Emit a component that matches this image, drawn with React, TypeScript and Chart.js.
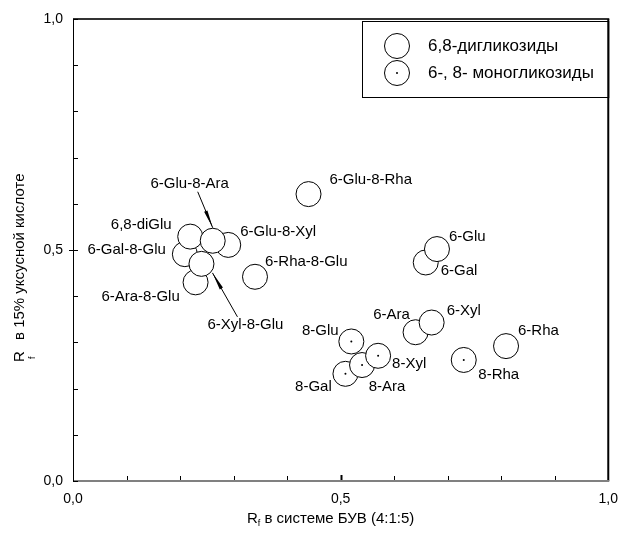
import React, { useEffect, useRef } from "react";
import { Chart, registerables } from "chart.js";
Chart.register(...registerables);

// 6,8-diglycosides
const diNames = ["6-Ara-8-Glu", "6-Gal-8-Glu", "6-Glu-8-Xyl", "6,8-diGlu", "6-Glu-8-Ara", "6-Xyl-8-Glu", "6-Rha-8-Glu", "6-Glu-8-Rha"];
const diX = [0.229, 0.209, 0.29, 0.219, 0.261, 0.24, 0.34, 0.44];
const diY = [0.43, 0.491, 0.511, 0.529, 0.52, 0.47, 0.442, 0.621];

// 6-monoglycosides (drawn as plain circles in the original)
const mono6Names = ["6-Gal", "6-Glu", "6-Ara", "6-Xyl", "6-Rha"];
const mono6X = [0.659, 0.68, 0.64, 0.67, 0.809];
const mono6Y = [0.473, 0.502, 0.322, 0.343, 0.292];

// 8-monoglycosides (circles with a dot)
const mono8Names = ["8-Gal", "8-Ara", "8-Xyl", "8-Glu", "8-Rha"];
const mono8X = [0.509, 0.54, 0.57, 0.52, 0.73];
const mono8Y = [0.232, 0.251, 0.271, 0.302, 0.262];

const tickValues = [0, 0.5, 1];
const minorTickValues = [0, 0.1, 0.2, 0.3, 0.4, 0.5, 0.6, 0.7, 0.8, 0.9, 1];
const legendLabels = ["6,8-дигликозиды", "6-, 8- моногликозиды"];
const xTitleMain = "R";
const xTitleSub = "f";
const xTitleRest = " в системе БУВ (4:1:5)";
const yTitleMain = "R";
const yTitleSub = "f";
const yTitleRest = "в 15% уксусной кислоте";

// label placement (pixel offsets from the point, alignment)
const labelLayout: Record<string, [number, number, CanvasTextAlign]> = {
  "6,8-diGlu": [-49, -12, "center"],
  "6-Gal-8-Glu": [-19, -4, "right"],
  "6-Ara-8-Glu": [-55, 15, "center"],
  "6-Glu-8-Ara": [-23, -57, "center"],
  "6-Glu-8-Xyl": [12, -13, "left"],
  "6-Rha-8-Glu": [10, -15, "left"],
  "6-Xyl-8-Glu": [6, 61, "left"],
  "6-Glu-8-Rha": [21, -14, "left"],
  "6-Glu": [12, -12, "left"],
  "6-Gal": [15, 8, "left"],
  "6-Xyl": [15, -12, "left"],
  "6-Ara": [-24, -17, "center"],
  "6-Rha": [12, -15, "left"],
  "8-Glu": [-31, -11, "center"],
  "8-Xyl": [14, 8, "left"],
  "8-Ara": [25, 22, "center"],
  "8-Gal": [-32, 13, "center"],
  "8-Rha": [35, 15, "center"],
};
// arrows: [name, tailDx, tailDy, tipDx, tipDy]
const arrowLayout: [string, number, number, number, number][] = [
  ["6-Glu-8-Ara", -15, -49, 0, -13],
  ["6-Xyl-8-Glu", 36, 53, 11, 9],
];

const FONT = '"Liberation Sans", Arial, sans-serif';
const fmt = (v: number) => Number(v).toFixed(1).replace(".", ",");

function drawArrow(ctx: CanvasRenderingContext2D, x1: number, y1: number, x2: number, y2: number) {
  ctx.save();
  ctx.strokeStyle = "#000";
  ctx.fillStyle = "#000";
  ctx.lineWidth = 1;
  ctx.beginPath();
  ctx.moveTo(x1, y1);
  ctx.lineTo(x2, y2);
  ctx.stroke();
  const a = Math.atan2(y2 - y1, x2 - x1);
  const L = 18, W = 1.8;
  const bx = x2 - L * Math.cos(a), by = y2 - L * Math.sin(a);
  ctx.beginPath();
  ctx.moveTo(x2, y2);
  ctx.lineTo(bx + W * Math.sin(a), by - W * Math.cos(a));
  ctx.lineTo(bx - W * Math.sin(a), by + W * Math.cos(a));
  ctx.closePath();
  ctx.fill();
  ctx.restore();
}

function drawMarker(ctx: CanvasRenderingContext2D, x: number, y: number, dot: boolean) {
  ctx.beginPath();
  ctx.arc(x, y, 12.5, 0, Math.PI * 2);
  ctx.fillStyle = "#fff";
  ctx.fill();
  ctx.lineWidth = 1;
  ctx.strokeStyle = "#000";
  ctx.stroke();
  if (dot) {
    ctx.fillStyle = "#000";
    ctx.beginPath();
    ctx.arc(x, y, 1, 0, Math.PI * 2);
    ctx.fill();
  }
}

const overlay = {
  id: "overlay",
  afterDatasetsDraw(chart: any) {
    const ctx: CanvasRenderingContext2D = chart.ctx;
    const xs = chart.scales.x, ys = chart.scales.y;
    const area = chart.chartArea;
    const pos: Record<string, [number, number]> = {};
    const add = (names: string[], X: number[], Y: number[]) =>
      names.forEach((n, i) => (pos[n] = [xs.getPixelForValue(X[i]), ys.getPixelForValue(Y[i])]));
    add(diNames, diX, diY);
    add(mono6Names, mono6X, mono6Y);
    add(mono8Names, mono8X, mono8Y);

    ctx.save();
    ctx.font = `15px ${FONT}`;
    ctx.fillStyle = "#000";
    ctx.textBaseline = "middle";
    Object.keys(labelLayout).forEach((n) => {
      const p = pos[n];
      if (!p) return;
      const [dx, dy, al] = labelLayout[n];
      ctx.textAlign = al;
      ctx.fillText(n, p[0] + dx, p[1] + dy);
    });
    arrowLayout.forEach(([n, tx, ty, hx, hy]) => {
      const p = pos[n];
      drawArrow(ctx, p[0] + tx, p[1] + ty, p[0] + hx, p[1] + hy);
    });

    // frame
    const { left, right, top, bottom } = area;
    ctx.lineCap = "butt";
    ctx.strokeStyle = "#333";
    ctx.lineWidth = 2;
    ctx.beginPath(); ctx.moveTo(left, top); ctx.lineTo(right + 1, top); ctx.stroke();
    ctx.strokeStyle = "#000";
    ctx.beginPath(); ctx.moveTo(right, top); ctx.lineTo(right, bottom); ctx.stroke();
    ctx.strokeStyle = "#808080";
    ctx.beginPath(); ctx.moveTo(left, bottom); ctx.lineTo(right + 1, bottom); ctx.stroke();
    ctx.strokeStyle = "#000";
    ctx.lineWidth = 1;
    ctx.beginPath(); ctx.moveTo(left + 0.5, top); ctx.lineTo(left + 0.5, bottom); ctx.stroke();

    // ticks
    minorTickValues.forEach((v) => {
      const major = Math.abs(v - 0.5) < 1e-9;
      const px = Math.round(xs.getPixelForValue(v)) + 0.5;
      ctx.lineWidth = major ? 2 : 1;
      ctx.beginPath(); ctx.moveTo(px, bottom - 1); ctx.lineTo(px, bottom - (major ? 6 : 5)); ctx.stroke();
      const py = Math.round(ys.getPixelForValue(v)) + 0.5;
      ctx.lineWidth = 1;
      ctx.beginPath();
      ctx.moveTo(major ? left - 4 : left, py);
      ctx.lineTo(left + 5, py);
      ctx.stroke();
    });

    // legend
    const lx = 362, ly = 21, lw = right - 362, lh = 76;
    ctx.lineWidth = 1;
    ctx.strokeStyle = "#000";
    ctx.strokeRect(lx + 0.5, ly + 0.5, lw, lh);
    drawMarker(ctx, 397, 46, false);
    drawMarker(ctx, 397, 73, true);
    ctx.fillStyle = "#000";
    ctx.font = `17px ${FONT}`;
    ctx.textAlign = "left";
    ctx.fillText(legendLabels[0], 428, 46);
    ctx.fillText(legendLabels[1], 428, 73);

    // x title
    ctx.font = `15px ${FONT}`;
    const cx = (left + right) / 2 - 10;
    const wR = ctx.measureText(xTitleMain).width;
    const wRest = ctx.measureText(xTitleRest).width;
    ctx.font = `9px ${FONT}`;
    const wS = ctx.measureText(xTitleSub).width;
    const total = wR + wS + wRest;
    const x0 = cx - total / 2;
    const ty = 519;
    ctx.textAlign = "left";
    ctx.font = `15px ${FONT}`;
    ctx.fillText(xTitleMain, x0, ty);
    ctx.font = `9px ${FONT}`;
    ctx.fillText(xTitleSub, x0 + wR, ty + 5);
    ctx.font = `15px ${FONT}`;
    ctx.fillText(xTitleRest, x0 + wR + wS, ty);

    // y title
    ctx.save();
    ctx.translate(20, 362);
    ctx.rotate(-Math.PI / 2);
    ctx.font = `15px ${FONT}`;
    ctx.textAlign = "left";
    ctx.fillText(yTitleMain, 0, 0);
    ctx.font = `9px ${FONT}`;
    ctx.fillText(yTitleSub, 3, 13);
    ctx.font = `15px ${FONT}`;
    ctx.fillText(yTitleRest, 22, 0);
    ctx.restore();

    ctx.restore();
  },
};

export default function App() {
  const ref = useRef<HTMLCanvasElement>(null);
  useEffect(() => {
    document.body.style.margin = "0";
    const toPts = (X: number[], Y: number[]) => X.map((x, i) => ({ x, y: Y[i] }));
    const circleStyle = {
      pointStyle: "circle" as const,
      pointRadius: 12.5,
      pointBorderWidth: 1,
      pointBorderColor: "#000",
      pointBackgroundColor: "#fff",
      showLine: false,
    };
    const chart = new Chart(ref.current!, {
      type: "scatter",
      data: {
        datasets: [
          {
            label: legendLabels[1] + " (dots)",
            data: toPts(mono8X, mono8Y),
            pointStyle: "circle",
            pointRadius: 1,
            pointBorderWidth: 0,
            pointBackgroundColor: "#000",
            showLine: false,
          },
          { label: legendLabels[1] + " (8-)", data: toPts(mono8X, mono8Y), ...circleStyle },
          { label: legendLabels[1] + " (6-)", data: toPts(mono6X, mono6Y), ...circleStyle },
          { label: legendLabels[0], data: toPts(diX, diY), ...circleStyle },
        ],
      },
      options: {
        animation: false,
        responsive: false,
        maintainAspectRatio: false,
        layout: { padding: { left: 0, right: 11, top: 19, bottom: 0 } },
        plugins: { legend: { display: false }, tooltip: { enabled: false } },
        scales: {
          x: {
            type: "linear",
            min: 0,
            max: 1,
            afterBuildTicks: (s: any) => { s.ticks = tickValues.map((v) => ({ value: v })); },
            afterFit: (s: any) => { s.height = 52; },
            grid: { display: false, drawTicks: false },
            border: { display: false },
            ticks: { callback: (v: any) => fmt(v), font: { family: FONT, size: 14 }, color: "#000", padding: 10, maxRotation: 0, autoSkip: false },
          },
          y: {
            type: "linear",
            min: 0,
            max: 1,
            afterBuildTicks: (s: any) => { s.ticks = tickValues.map((v) => ({ value: v })); },
            afterFit: (s: any) => { s.width = 73; },
            grid: { display: false, drawTicks: false },
            border: { display: false },
            ticks: { callback: (v: any) => fmt(v), font: { family: FONT, size: 14 }, color: "#000", padding: 10, autoSkip: false },
          },
        },
      },
      plugins: [overlay],
    });
    return () => chart.destroy();
  }, []);
  return <canvas ref={ref} width={628} height={533} style={{ display: "block" }} />;
}
